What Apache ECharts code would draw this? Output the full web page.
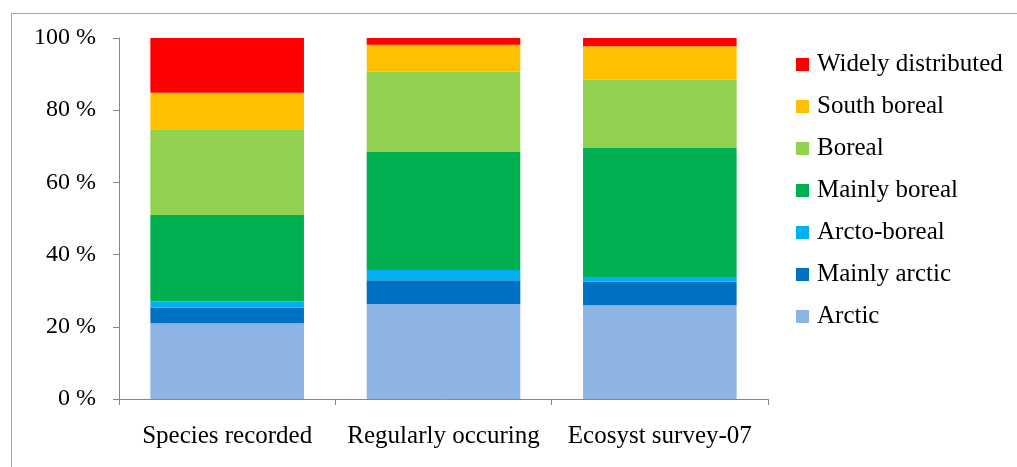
<!DOCTYPE html>
<html>
<head>
<meta charset="utf-8">
<script src="https://cdn.jsdelivr.net/npm/echarts@6/dist/echarts.min.js"></script>
<style>
  html, body { margin: 0; padding: 0; background: #ffffff; }
  #chart { width: 1017px; height: 467px; }
</style>
</head>
<body>
<div id="chart"></div>
<script>
// Survey groups along the x axis
const categories = ['Species recorded', 'Regularly occuring', 'Ecosyst survey-07'];

// Share (%) of each distribution class, stacked bottom to top
const arctic          = [21.0, 26.3, 26.0];
const mainlyArctic    = [4.3, 6.6, 6.5];
const arctoBoreal     = [1.8, 2.8, 1.3];
const mainlyBoreal    = [23.9, 32.7, 35.9];
const boreal          = [23.7, 22.3, 18.8];
const southBoreal     = [10.1, 7.4, 9.2];
const widelyDist      = [15.2, 1.9, 2.3];

const yTicks = [0, 20, 40, 60, 80, 100];

const seriesDefs = [
  { name: 'Arctic', data: arctic, color: '#8EB4E3' },
  { name: 'Mainly arctic', data: mainlyArctic, color: '#0070C0' },
  { name: 'Arcto-boreal', data: arctoBoreal, color: '#00B0F0' },
  { name: 'Mainly boreal', data: mainlyBoreal, color: '#00B050' },
  { name: 'Boreal', data: boreal, color: '#92D050' },
  { name: 'South boreal', data: southBoreal, color: '#FFC000' },
  { name: 'Widely distributed', data: widelyDist, color: '#FF0000' }
];

const FONT = '"Liberation Serif", "Times New Roman", serif';
const chart = echarts.init(document.getElementById('chart'), null, { renderer: 'canvas' });

chart.setOption({
  animation: false,
  backgroundColor: '#ffffff',
  textStyle: { fontFamily: FONT },
  graphic: [{
    type: 'rect',
    shape: { x: 11.5, y: 13.5, width: 1100, height: 600 },
    style: { fill: 'none', stroke: '#A6A6A6', lineWidth: 1 },
    silent: true
  }],
  grid: { left: 119, right: 249, top: 38, bottom: 68, containLabel: false },
  legend: {
    orient: 'vertical',
    left: 796,
    top: 52,
    padding: 0,
    itemWidth: 13,
    itemHeight: 13,
    itemGap: 17,
    icon: 'rect',
    data: seriesDefs.map(s => s.name).reverse(),
    textStyle: { fontFamily: FONT, fontSize: 25, color: '#000000', padding: [0, 0, 0, 3] }
  },
  xAxis: {
    type: 'category',
    data: categories,
    axisLine: { show: true, lineStyle: { color: '#868686', width: 1 } },
    axisTick: { show: true, alignWithLabel: false, length: 6, lineStyle: { color: '#868686' } },
    axisLabel: {
      fontFamily: FONT, fontSize: 25, color: '#000000', margin: 25,
      interval: 0, hideOverlap: false
    },
    splitLine: { show: false }
  },
  yAxis: {
    type: 'value',
    min: 0,
    max: 100,
    interval: 20,
    axisLine: { show: true, lineStyle: { color: '#868686', width: 1 } },
    axisTick: { show: true, length: 6, lineStyle: { color: '#868686' } },
    axisLabel: {
      fontFamily: FONT, fontSize: 24, color: '#000000', margin: 23,
      formatter: v => (yTicks.includes(v) ? v + ' %' : '')
    },
    splitLine: { show: false }
  },
  series: seriesDefs.map(s => ({
    name: s.name,
    type: 'bar',
    stack: 'total',
    data: s.data,
    barWidth: '71%',
    itemStyle: { color: s.color },
    emphasis: { disabled: true }
  }))
});
</script>
</body>
</html>
